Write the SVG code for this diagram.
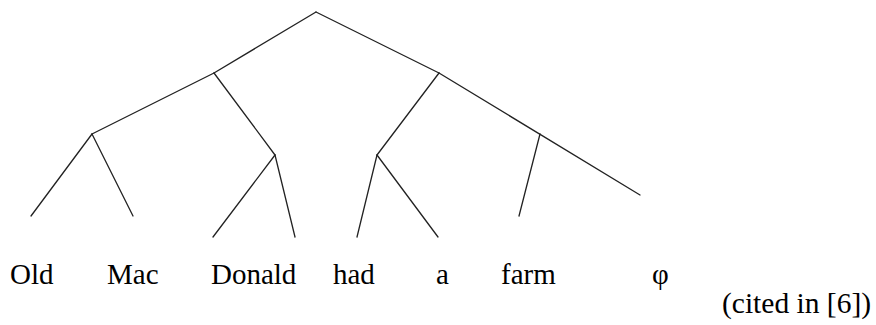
<svg xmlns="http://www.w3.org/2000/svg" width="876" height="325" viewBox="0 0 876 325">
<style>
.e{stroke:#222;stroke-width:1.3;fill:none;stroke-linecap:round}
.t{font-family:"Liberation Serif","Times New Roman",serif;font-size:29px;fill:#000}
.c{font-size:29.5px}
</style>
<rect width="876" height="325" fill="#fff"/>
<g id="connectors">
<line class="e" x1="316" y1="12" x2="214" y2="73"/>
<line class="e" x1="316" y1="12" x2="439" y2="73"/>
<line class="e" x1="439" y1="73" x2="640" y2="195"/>
<line class="e" x1="214" y1="73" x2="92" y2="134"/>
<line class="e" x1="214" y1="73" x2="275" y2="155"/>
<line class="e" x1="92" y1="134" x2="31" y2="216"/>
<line class="e" x1="92" y1="134" x2="133" y2="216"/>
<line class="e" x1="275" y1="155" x2="213" y2="237"/>
<line class="e" x1="275" y1="155" x2="295" y2="237"/>
<line class="e" x1="439" y1="73" x2="377" y2="155"/>
<line class="e" x1="377" y1="155" x2="357" y2="237"/>
<line class="e" x1="377" y1="155" x2="438" y2="237"/>
<line class="e" x1="540" y1="134" x2="519" y2="216"/>
</g>
<g id="w-old"><text class="t" x="10" y="284">Old</text></g>
<g id="w-mac"><text class="t" x="107" y="284">Mac</text></g>
<g id="w-donald"><text class="t" x="211" y="284">Donald</text></g>
<g id="w-had"><text class="t" x="333" y="284">had</text></g>
<g id="w-a"><text class="t" x="436" y="284">a</text></g>
<g id="w-farm"><text class="t" x="501" y="284">farm</text></g>
<g id="w-phi"><text class="t" x="652" y="284">φ</text></g>
<g id="caption"><text class="t c" x="722" y="313">(cited in [6])</text></g>
</svg>
